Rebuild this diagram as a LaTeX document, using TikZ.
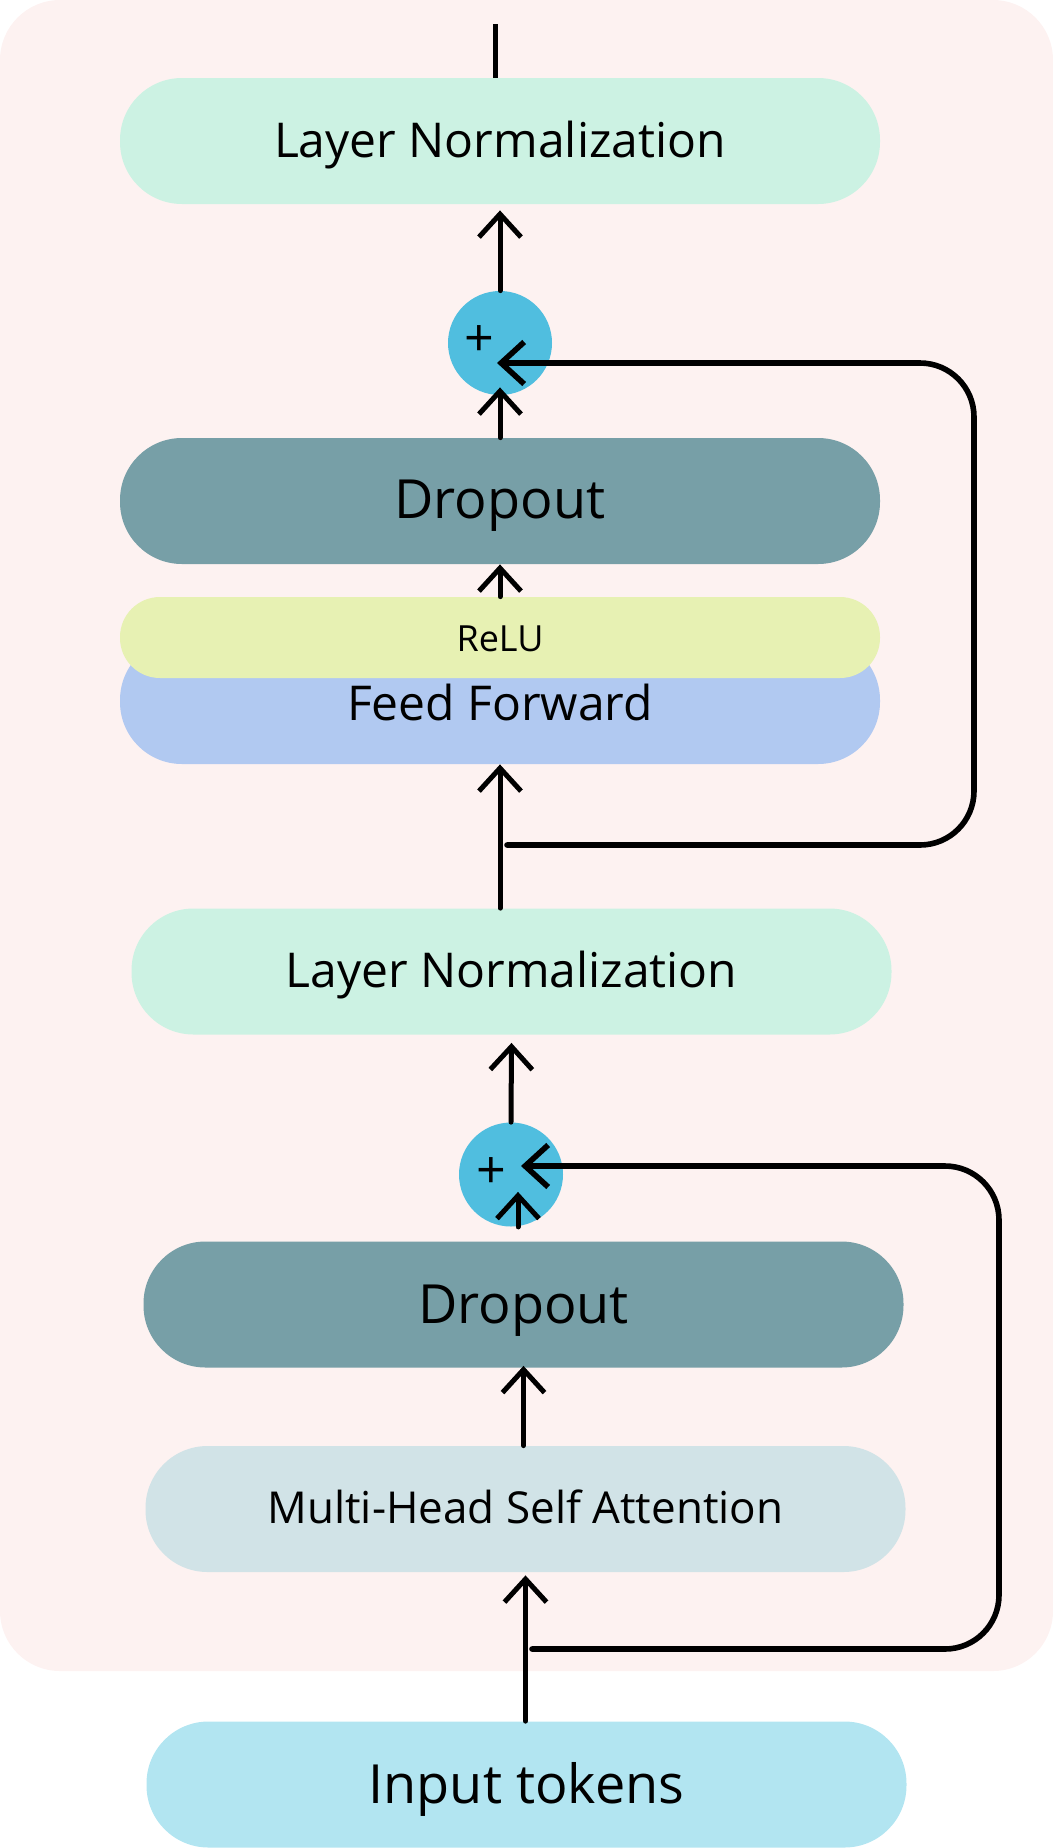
\documentclass[tikz,border=0pt]{standalone}
\usepackage{fontspec}
\setmainfont{Open Sans}
\usetikzlibrary{arrows.meta,calc}
\definecolor{bgpink}{HTML}{FDF2F1}
\definecolor{lnmint}{HTML}{CCF2E3}
\definecolor{dropteal}{HTML}{779FA7}
\definecolor{relulime}{HTML}{E7F1B3}
\definecolor{ffblue}{HTML}{B1C9F1}
\definecolor{mhsagray}{HTML}{D1E3E7}
\definecolor{inputcyan}{HTML}{B2E5F1}
\definecolor{plusblue}{HTML}{50BEDF}
\newcommand{\onbase}[2]{\raisebox{-#1}[0pt][0pt]{#2}}
\begin{document}
\begin{tikzpicture}[x=0.5pt,y=-0.5pt,>={Straight Barb[length=11.5pt,width=21pt]},
 blk/.style={rounded corners=31pt,minimum width=380pt,minimum height=63pt,inner sep=0pt,font=\fontsize{24}{28}\selectfont},
 big/.style={font=\fontsize{27}{32}\selectfont},
 sum/.style={circle,fill=plusblue,minimum size=52pt,inner sep=0pt},
 plussign/.style={font=\fontsize{26}{30}\selectfont,inner sep=0pt},
 flow/.style={->,line width=2.5pt,line cap=round},
 skip/.style={->,line width=2.8pt,line cap=round,rounded corners=27pt}]
 \useasboundingbox (0,0) rectangle (1053,1848);
 \fill[bgpink,rounded corners=30pt] (0,0) rectangle (1053,1671);
 \node[blk,fill=lnmint] (ln1) at (500,141) {\onbase{8pt}{Layer Normalization}};
 \node[sum] (add1) at (500,343) {};
 \node[plussign] (add1t) at (479,341) {+};
 \node[blk,big,fill=dropteal] (drop1) at (500,501) {\onbase{8.5pt}{Dropout}};
 \node[blk,fill=ffblue] (ff) at (500,701) {\onbase{9.5pt}{Feed Forward}};
 \node[blk,fill=relulime,minimum height=40.5pt,rounded corners=20pt,font=\fontsize{18}{22}\selectfont] (relu) at (500,637.5) {\onbase{6.75pt}{ReLU}};
 \node[blk,fill=lnmint] (ln2) at (511.5,971.5) {\onbase{7.75pt}{Layer Normalization}};
 \node[sum] (add2) at (511,1174.5) {};
 \node[plussign] (add2t) at (491,1173) {+};
 \node[blk,big,fill=dropteal] (drop2) at (523.5,1304.5) {\onbase{9.25pt}{Dropout}};
 \node[blk,fill=mhsagray,font=\fontsize{22}{26}\selectfont] (mhsa) at (525.5,1509) {\onbase{7pt}{Multi-Head Self Attention}};
 \node[blk,big,fill=inputcyan] (inp) at (526.5,1784.5) {\onbase{9.25pt}{Input tokens}};
 \coordinate (out) at (495,24);
 \coordinate (br1) at (507,845);
 \coordinate (in1) at (497,363);
 \coordinate (br2) at (532,1649);
 \coordinate (in2) at (521,1166);
 \draw[line width=2.5pt] (out) -- (out |- ln1.north);
 \draw[flow] (add1.north) -- ($(ln1.south)+(0,6)$);
 \draw[flow] (drop1.north) -- ($(add1.south)+(0,-8)$);
 \draw[flow] (relu.north) -- (drop1.south);
 \draw[flow] (ln2.north -| ff.south) -- (ff.south);
 \draw[skip] (br1) -- (974,845) -- (974,363) -- (in1);
 \draw[flow] (add2.north) -- ($(ln2.south)+(0,8)$);
 \draw[flow] (add2.south -| 518,0) -- ($(add2.south -| 518,0)+(0,-35)$);
 \draw[skip] (br2) -- (999,1649) -- (999,1166) -- (in2);
 \draw[flow] (mhsa.north -| drop2.south) -- ($(drop2.south)+(0,-2)$);
 \draw[flow] (inp.north -| mhsa.south) -- ($(mhsa.south)+(0,3)$);
\end{tikzpicture}
\end{document}
